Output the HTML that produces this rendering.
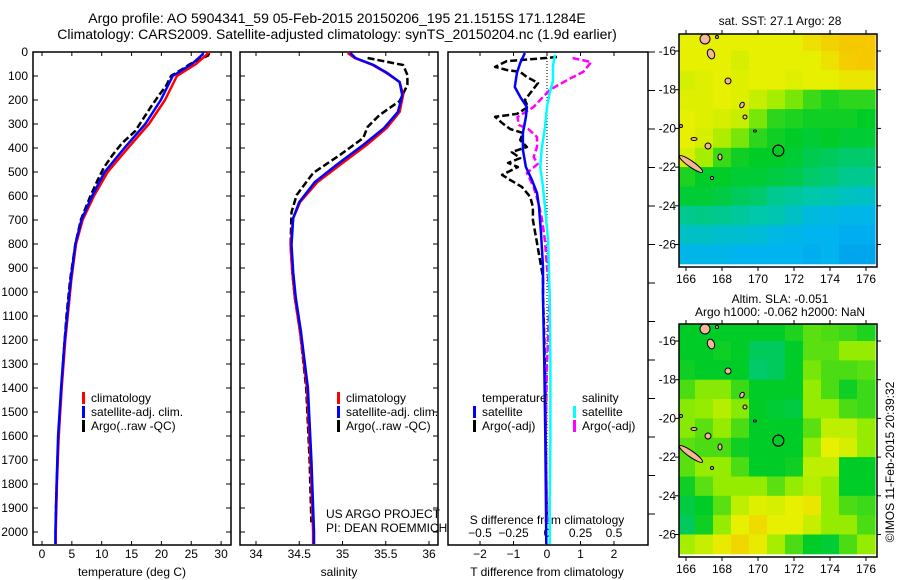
<!DOCTYPE html>
<html><head><meta charset="utf-8"><style>
body{margin:0;background:#fff}
svg{display:block;font-family:"Liberation Sans",sans-serif}
text{fill:#000}
</style></head><body>
<svg id="s" width="900" height="580" viewBox="0 0 900 580">
<rect width="900" height="580" fill="#fff"/>
<text x="337" y="23" font-size="14" text-anchor="middle">Argo profile: AO 5904341_59 05-Feb-2015 20150206_195 21.1515S 171.1284E</text>
<text x="337" y="39" font-size="14" text-anchor="middle">Climatology: CARS2009. Satellite-adjusted climatology: synTS_20150204.nc (1.9d earlier)</text>
<text x="780" y="25" font-size="12" text-anchor="middle">sat. SST: 27.1 Argo: 28</text>
<text x="780" y="303" font-size="12" text-anchor="middle">Altim. SLA: -0.051</text>
<text x="780" y="316" font-size="12" text-anchor="middle">Argo h1000: -0.062 h2000: NaN</text>
<text transform="translate(894,462) rotate(-90)" font-size="12" text-anchor="middle">©IMOS 11-Feb-2015 20:39:32</text>
<g id="g"></g>
</svg>
<script>
// ---- data ----
const depthTicks=[0,100,200,300,400,500,600,700,800,900,1000,1100,1200,1300,1400,1500,1600,1700,1800,1900,2000];
const tTicks=[0,5,10,15,20,25,30];
const sTicks=[34,34.5,35,35.5,36];
const tdTicks=[-2,-1,0,1,2];
const sdTicks=[-0.5,-0.25,0,0.25,0.5];
const sdTickLabels=["-0.5","-0.25","0","0.25","0.5"];
const climDepth=[0,10,50,100,200,300,400,500,600,700,800,950,1100,1200,1400,1600,1800,2000,2050];
const climT=[28,27.6,25.8,22.6,20.6,17.9,14.4,11,8.7,6.8,5.7,4.9,4.3,3.9,3.3,2.8,2.5,2.3,2.3];
const satT=[27,26.9,25.1,21.9,19.9,17.3,13.8,10.5,8.4,6.6,5.6,4.8,4.2,3.8,3.2,2.7,2.45,2.25,2.25];
const argoDepth=[5,15,30,50,70,100,140,180,230,280,330,380,430,480,530,600,700,800,950,1100,1300,1500,1700,1900,1960];
const argoT=[28,27.8,26.5,24.8,23.6,21.6,20.8,19.6,18.2,16.9,15.6,13.4,11.8,10.4,9.4,8.1,6.5,5.6,4.7,4.1,3.5,3.0,2.6,2.35,2.3];
const climS=[35.06,35.14,35.35,35.51,35.66,35.70,35.66,35.51,35.28,34.97,34.71,34.51,34.43,34.40,34.42,34.45,34.51,34.59,34.63,34.66,34.66];
const climSDepth=[4,25,54,88,125,179,250,317,387,471,542,625,692,804,917,1025,1167,1400,1700,2000,2050];
const satS=[35.09,35.15,35.36,35.52,35.66,35.69,35.64,35.48,35.24,34.93,34.68,34.50,34.43,34.41,34.43,34.46,34.52,34.60,34.64,34.67,34.67];
const argoSDepth=[25,54,96,137,204,262,312,358,429,504,596,667,804,917,1025,1167,1400,1700,1960];
const argoS=[35.29,35.70,35.75,35.75,35.66,35.43,35.29,35.24,34.97,34.66,34.47,34.41,34.40,34.42,34.45,34.51,34.58,34.62,34.64];
const satTdDepth=[4,46,88,146,187,229,271,337,408,479,533,587,646,754,896,1021,1300,1600,1900,2050];
const satTd=[-0.66,-0.8,-0.9,-0.96,-0.8,-0.6,-0.63,-0.72,-0.72,-0.63,-0.45,-0.3,-0.24,-0.18,-0.12,-0.12,-0.08,-0.05,-0.03,-0.02];
const satSdDepth=[12,58,121,171,229,312,408,479,562,646,787,1021,1300,1600,1900,2050];
const satSd=[0.06,0.045,0.045,0.02,0,-0.015,-0.04,-0.05,-0.03,-0.015,0.008,0.02,0.025,0.025,0.02,0.02];
const argoSdDepth=[25,42,83,117,158,229,271,304,321,354,396,437,467,504,562,617,687,787,896,1008,1300,1600,1900,1960];
const argoSd=[0.19,0.33,0.27,0.15,0.02,-0.1,-0.22,-0.21,-0.14,-0.075,-0.075,-0.1,-0.07,-0.15,-0.1,-0.07,-0.04,-0.015,0,0.02,0,-0.01,0,0];
const argoTdDepth=[21,33,38,62,75,83,104,129,171,200,229,258,270,296,321,337,367,396,417,442,462,479,512,533,562,604,646,700,796,867,938,1008,1200,1400,1600,1800,1960];
const argoTd=[0.3,-0.72,-1.2,-1.55,-1.2,-0.8,-0.6,-0.27,-0.5,-0.66,-0.57,-0.9,-1.55,-1.34,-1.1,-0.72,-0.8,-0.6,-1.05,-0.8,-1.16,-0.87,-1.34,-1.1,-0.75,-0.5,-0.42,-0.42,-0.3,-0.21,-0.12,-0.12,-0.08,-0.05,-0.04,-0.02,0];
const lonTicks=[166,168,170,172,174,176];
const latTicks=[-16,-18,-20,-22,-24,-26];
const cellLons=[166,167,168,169,170,171,172,173,174,175,176];
const cellLats=[-15.5,-16.5,-17.5,-18.5,-19.5,-20.5,-21.5,-22.5,-23.5,-24.5,-25.5,-26.5];
const sstGrid=[
[5,5,5,5,5,5,5,5.3,5.6,5.8,5.8],
[5,5,5,4.8,5,5,5,5,5.3,5.7,5.8],
[4.8,4.9,5,4.9,5,5,4.9,5,5,5.2,5.2],
[4.9,4.9,5,4.9,4.6,4.2,3.8,3.4,3.2,3.3,3.3],
[5,4.9,4.8,4.6,3.8,3.3,3.2,3.1,3.1,3.1,3],
[5,4.8,4.3,3.8,3.3,3.1,3,2.9,3,2.9,2.9],
[4.8,4.2,3.4,3.1,3,3,2.9,2.7,2.6,2.5,2.5],
[3.2,3,3,2.9,2.9,2.8,2.7,2.5,2.4,2.2,2.2],
[2.9,2.9,2.8,2.6,2.5,2.2,2.1,2,1.9,1.7,1.6],
[2.2,2.3,2.2,2.1,2,1.9,1.6,1.3,1.2,1.1,1.1],
[1.6,1.6,1.5,1.5,1.4,1.2,1.1,1,1,0.9,0.9],
[1.1,1.1,1.1,1,1,1,1,0.9,1,0.8,0.8]];
const slaGrid=[
[3,3,3,3,3,3,3.2,3.6,3.5,3.4,3.2],
[3,3,3.1,3,2.6,2.6,3,3.6,3.6,4,4],
[3.1,3,3,3,2.5,2.6,3,3.8,3.5,3.5,3.6],
[3.5,3.9,3.9,3.4,3,3,3,4,3.5,3.1,3.4],
[3.9,4,4.4,3.9,3,2.9,2.8,4,4,3.5,3.4],
[3.9,3.6,4,3.5,3,3,3,3.6,4.5,4.5,4],
[3.6,3.5,3.5,3.1,3,3,3,4,5,4.8,4],
[3.6,4,4,3.5,3,3,3.1,4.5,4.5,3,3],
[3.1,3.6,4,4,4,3.6,4,4.4,4,3,3],
[2.8,3,3.6,4.5,4.9,4.8,5,5.2,4,3.5,3.4],
[2.6,3.1,4,5,5.4,5,5,4.6,4,4,3.5],
[4.2,4.6,5.1,5.5,5.1,4.2,3.5,3,2.9,3.5,4]];
const argoLon=171.13, argoLat=-21.15;
</script>
<script>
const NS="http://www.w3.org/2000/svg", G=document.getElementById('g');
function el(tag,attrs,parent){const e=document.createElementNS(NS,tag);for(const k in attrs)e.setAttribute(k,attrs[k]);(parent||G).appendChild(e);return e;}
function txt(x,y,s,anchor,size,parent){const t=el('text',{x:x,y:y,'font-size':size||12,'text-anchor':anchor||'middle'},parent);t.textContent=s;return t;}
const Y0=52, PPD=0.24, BOT=545;
const yD=d=>Y0+d*PPD;
const P1={x0:33,x1:231,f:v=>42+5.97*v};
const P2={x0:240,x1:438,f:v=>256+86.5*(v-34)};
const P3={x0:448,x1:648,f:v=>547+33.5*v,g:v=>547+134*v};

function panel(P,name){
  const grp=el('g',{});
  
  
  return grp;
}
function frame(P,grp,ticksX,fx,withDepthTicks){
  const r=el('rect',{x:P.x0,y:Y0,width:P.x1-P.x0,height:BOT-Y0,fill:'none',stroke:'#000','stroke-width':1.5},grp);
  
  
  ticksX.forEach(v=>{const x=fx(v);el('line',{x1:x,x2:x,y1:Y0,y2:Y0+4,stroke:'#000'},grp);el('line',{x1:x,x2:x,y1:BOT,y2:BOT-4,stroke:'#000'},grp);});
  if(withDepthTicks) depthTicks.forEach(d=>{const y=yD(d);el('line',{x1:P.x0,x2:P.x0+5,y1:y,y2:y,stroke:'#000'},grp);el('line',{x1:P.x1,x2:P.x1-5,y1:y,y2:y,stroke:'#000'},grp);});
}
function curve(grp,vals,depths,fx,color,dash,name,w){
  let d='';vals.forEach((v,i)=>{d+=(i?'L':'M')+fx(v).toFixed(1)+','+yD(depths[i]).toFixed(1);});
  const p=el('path',{d:d,fill:'none',stroke:color,'stroke-width':w||2.5,'stroke-dasharray':dash||'none','stroke-linejoin':'round'},grp);
  
  
}
function legend(grp,x,y,items){
  items.forEach((it,i)=>{const yy=y+i*14;el('rect',{x:x-2,y:yy-10,width:3,height:12,fill:it[1]},grp);txt(x+7,yy,it[0],'start',12,grp);});
}
// Panel 1
const g1=panel(P1,'temperature-panel');
frame(P1,g1,tTicks,P1.f,true);
depthTicks.forEach(d=>txt(28,yD(d)+4,String(d),'end',12,g1));
tTicks.forEach(v=>txt(P1.f(v),558,String(v),'middle',12,g1));
txt(132,576,'temperature (deg C)','middle',12,g1);
curve(g1,argoT,argoDepth,P1.f,'#000','7,3','argo-temperature-line');
curve(g1,climT,climDepth,P1.f,'#f00',null,'climatology-temperature-line');
curve(g1,satT,climDepth,P1.f,'#00f',null,'satellite-temperature-line');
legend(g1,84,402,[['climatology','#f00'],['satellite-adj. clim.','#00f'],['Argo(..raw -QC)','#000']]);
// Panel 2
const g2=panel(P2,'salinity-panel');
frame(P2,g2,sTicks,P2.f,true);
sTicks.forEach(v=>txt(P2.f(v),558,String(v),'middle',12,g2));
txt(339,576,'salinity','middle',12,g2);
curve(g2,argoS,argoSDepth,P2.f,'#000','7,3','argo-salinity-line');
curve(g2,climS,climSDepth,P2.f,'#f00',null,'climatology-salinity-line');
curve(g2,satS,climSDepth,P2.f,'#00f',null,'satellite-salinity-line');
legend(g2,339,402,[['climatology','#f00'],['satellite-adj. clim.','#00f'],['Argo(..raw -QC)','#000']]);
txt(326,518,'US ARGO PROJECT','start',12,g2);
txt(326,532,'PI: DEAN ROEMMICH','start',12,g2);
// Panel 3
const g3=panel(P3,'difference-panel');
frame(P3,g3,tdTicks,P3.f,false);
for(let y=Y0;y<=BOT+1;y+=38.5){el('line',{x1:P3.x1,x2:P3.x1+7,y1:y,y2:y,stroke:'#000'},g3);}
el('line',{x1:P3.f(0),x2:P3.f(0),y1:Y0,y2:BOT,stroke:'#000','stroke-dasharray':'1,2'},g3);
tdTicks.forEach(v=>txt(P3.f(v),558,String(v).replace('-','−'),'middle',12,g3));
sdTicks.forEach((v,i)=>txt(P3.g(v),537,sdTickLabels[i].replace('-','−'),'middle',12,g3));
txt(547,524,'S difference from climatology','middle',12,g3);
txt(547,576,'T difference from climatology','middle',12,g3);
curve(g3,argoTd,argoTdDepth,P3.f,'#000','7,3','argo-temp-diff-line');
curve(g3,argoSd,argoSdDepth,P3.g,'#f0f','7,3','argo-sal-diff-line');
curve(g3,satTd,satTdDepth,P3.f,'#00f',null,'satellite-temp-diff-line');
curve(g3,satSd,satSdDepth,P3.g,'#0ff',null,'satellite-sal-diff-line');
txt(482,402,'temperature','start',12,g3);
txt(582,402,'salinity','start',12,g3);
legend(g3,475,416,[['satellite','#00f'],['Argo(-adj)','#000']]);
legend(g3,575,416,[['satellite','#0ff'],['Argo(-adj)','#f0f']]);

// Maps
const stops=[[0,112,224],[0,180,240],[0,200,170],[0,204,40],[150,236,0],[230,240,0],[250,190,0]];
function cmap(v){v=Math.max(0,Math.min(6,v));const i=Math.min(5,Math.floor(v)),f=v-i;const a=stops[i],b=stops[i+1];return 'rgb('+a.map((c,k)=>Math.round(c+(b[k]-c)*f)).join(',')+')';}
const MX0=679,MX1=877;
const lx=lon=>686+18*(lon-166);
const islands=[[705,39,5,5,0],[711,54,3.5,5,-20],[717,37,1.5,1.5,0],[728,81,3,3,0],[742,105,2,3,30],[745,117,2,2,0],[755,131,1.5,1,0],[681,126,1.5,1.5,0],[694,139,3,1.5,0],[708,146,3,3,30],[720,157,2,3,0],[691,164,14,3,35],[712,178,1.5,1.5,0]];
function map(top,grid,name,clipId){
  const MY0=top,MY1=top+233;
  const ly=lat=>(top+17)+19.35*(-16-lat);
  const grp=el('g',{});
  
  
  const defs=el('defs',{},grp);const cp=el('clipPath',{id:clipId},defs);el('rect',{x:MX0,y:MY0,width:MX1-MX0,height:MY1-MY0},cp);
  const cells=el('g',{'clip-path':'url(#'+clipId+')'},grp);
  grid.forEach((row,r)=>row.forEach((v,c)=>{
    const x=lx(cellLons[c]-0.5),y=ly(cellLats[r]+0.5);
    const rc=el('rect',{x:x.toFixed(1),y:y.toFixed(1),width:18.6,height:19.8,fill:cmap(v)},cells);
    
    
  }));
  islands.forEach(s=>{el('ellipse',{cx:s[0],cy:s[1]-34+top,rx:s[2],ry:s[3],fill:'#f4b896',stroke:'#000','stroke-width':1,transform:'rotate('+s[4]+' '+s[0]+' '+(s[1]-34+top)+')'},cells);});
  const c=el('circle',{cx:lx(argoLon),cy:ly(argoLat),r:5.5,fill:'none',stroke:'#000','stroke-width':1.2},grp);
  
  
  el('rect',{x:MX0,y:MY0,width:MX1-MX0,height:MY1-MY0,fill:'none',stroke:'#000','stroke-width':1.5},grp);
  lonTicks.forEach(v=>{const x=lx(v);el('line',{x1:x,x2:x,y1:MY0,y2:MY0-4,stroke:'#000'},grp);el('line',{x1:x,x2:x,y1:MY1,y2:MY1+4,stroke:'#000'},grp);txt(x,MY1+16,String(v),'middle',12,grp);});
  latTicks.forEach(v=>{const y=ly(v);el('line',{x1:MX0,x2:MX0-4,y1:y,y2:y,stroke:'#000'},grp);el('line',{x1:MX1,x2:MX1+4,y1:y,y2:y,stroke:'#000'},grp);txt(676,y+4,String(v),'end',12,grp);});
}
map(34,sstGrid,'sst-map','c1');
map(324,slaGrid,'sla-map','c2');
</script>
</body></html>
